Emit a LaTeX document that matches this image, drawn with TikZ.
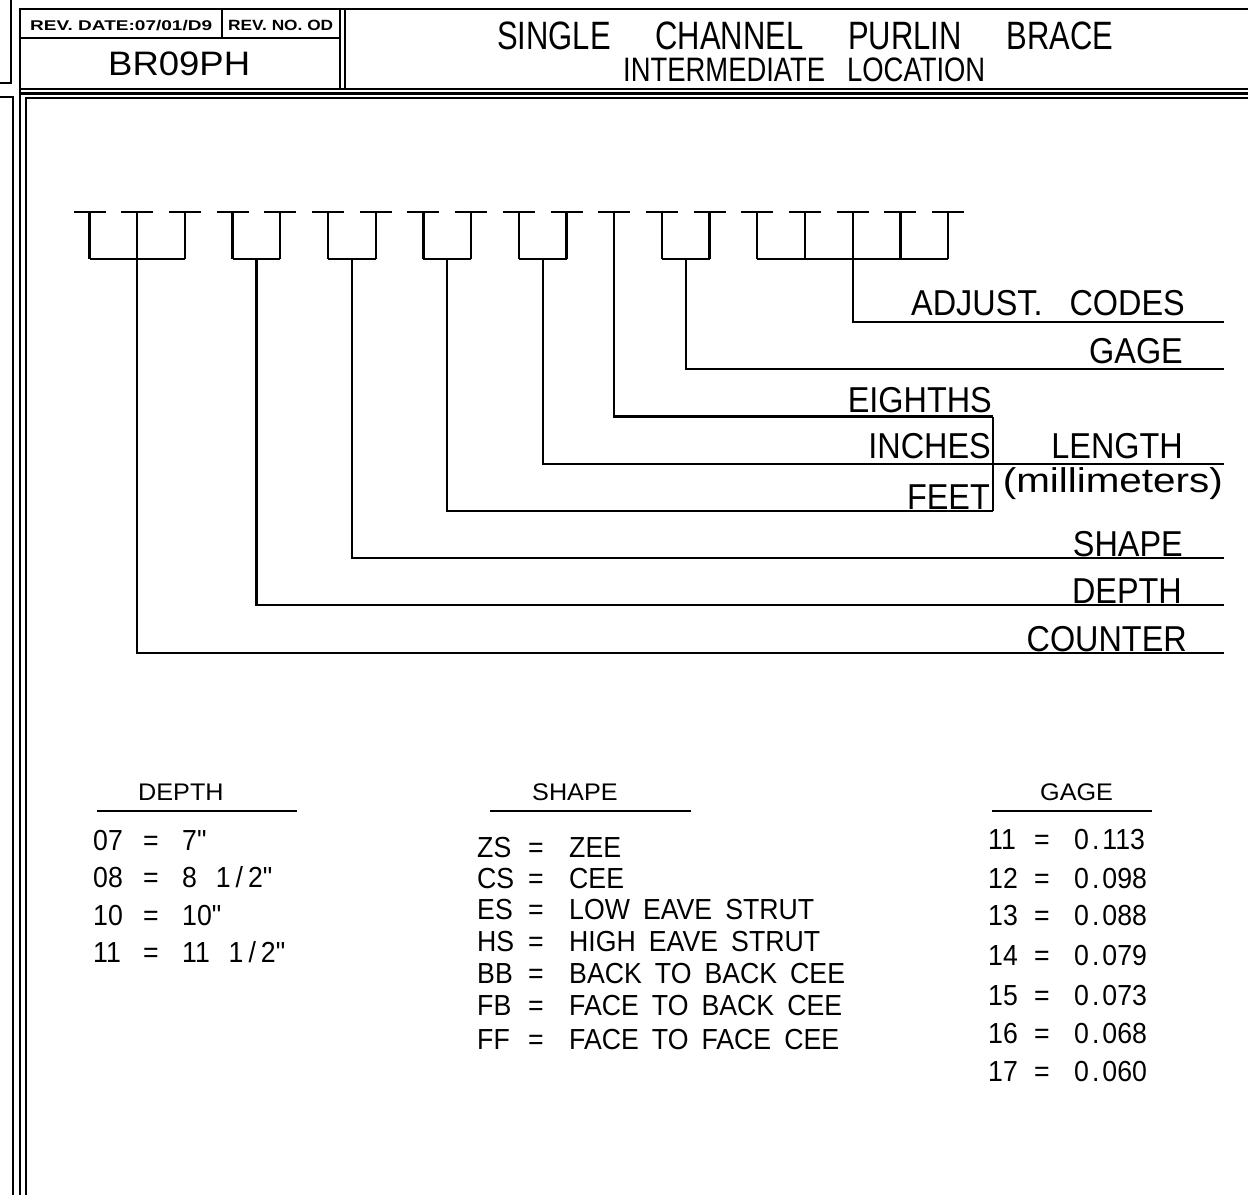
\documentclass[tikz,border=0pt]{standalone}
\usepackage{fontspec}
\setmainfont{Liberation Sans}
\newfontfamily\cadfont[FakeStretch=0.9]{Liberation Sans}
\newfontfamily\cadtab[FakeStretch=0.92]{Liberation Sans}
\newfontfamily\cadhdr[FakeStretch=1.05]{Liberation Sans}
\newcommand\gp{\hspace{0.45em}}
\newcommand\bgp{\hspace{0.75em}}
\newcommand\pd{\kern3pt.\kern3pt}
\newcommand\half{1\kern5pt/\kern5pt2"}
\tikzset{
  frame/.style={line width=2.2pt},
  thinframe/.style={line width=1.4pt},
  brk/.style={line width=2.3pt},
  lbl/.style={font=\cadfont\fontsize{36}{36}\selectfont, anchor=base east, inner sep=0pt},
  hdr/.style={font=\cadhdr\fontsize{24}{24}\selectfont, anchor=base west, inner sep=0pt},
  row/.style={font=\cadtab\fontsize{29}{29}\selectfont, anchor=base west, inner sep=0pt},
  fitnode/.style={anchor=south west, inner sep=0pt},
  uline/.style={line width=1.8pt},
}
\begin{document}
\begin{tikzpicture}[x=1pt,y=-1pt]
\useasboundingbox (0,0) rectangle (1248,1195);
% ---------- frame ----------
\draw[frame] (0,83) -- (11,83) -- (11,0);
\draw[frame] (0,97) -- (13,97) -- (13,1195);
\draw[frame] (20,1195) -- (20,9) -- (1248,9);
\draw[frame] (20,89) -- (1248,89);
\draw[frame] (20,93.5) -- (1248,93.5);
\draw[thinframe] (26,1195) -- (26,97.8) -- (1248,97.8);
\draw[frame] (20,38) -- (340,38);
\draw[frame] (222,9) -- (222,38);
\draw[frame] (340,9) -- (340,89);
\draw[frame] (345,9) -- (345,89);
% ---------- title block text ----------
\node[fitnode] (revdate) at (30,30.5) {\resizebox*{182pt}{10.5pt}{\bfseries REV.\ DATE:07/01/D9}};
\node[fitnode] (revno) at (228,30.5) {\resizebox*{105pt}{10.5pt}{\bfseries REV.\ NO.\ OD}};
\node[fitnode] (dwg) at (108,76) {\resizebox*{142pt}{24pt}{BR09PH}};
\node[fitnode] (title) at (497,50) {\resizebox*{616pt}{28pt}{SINGLE\hspace{1.45em}CHANNEL\hspace{1.45em}PURLIN\hspace{1.45em}BRACE}};
\node[fitnode] (subtitle) at (623,82) {\resizebox*{362pt}{24pt}{INTERMEDIATE\hspace{0.8em}LOCATION}};
% ---------- bracket row ----------
\foreach \k in {0,...,18}{
  \pgfmathsetmacro\cx{89.5+47.7*\k}
  \draw[brk] (\cx-16,212) -- (\cx+16,212);
  \draw[brk] (\cx,212) -- (\cx,259);
}
% group bars
\draw[brk] (89.5,259) -- (184.9,259);
\draw[brk] (232.6,259) -- (280.3,259);
\draw[brk] (328.0,259) -- (375.7,259);
\draw[brk] (423.4,259) -- (471.1,259);
\draw[brk] (518.8,259) -- (566.5,259);
\draw[brk] (661.9,259) -- (709.6,259);
\draw[brk] (757.3,259) -- (948.1,259);
% stems and leaders
\coordinate (sA) at (852.7,259);   \coordinate (eA) at (1224,322);
\coordinate (sG) at (685.8,259);   \coordinate (eG) at (1224,369);
\coordinate (sE) at (614.2,212);   \coordinate (eE) at (993,416.5);
\coordinate (sI) at (542.7,259);   \coordinate (eI) at (1224,464);
\coordinate (sF) at (447.3,259);   \coordinate (eF) at (993,511);
\coordinate (sS) at (351.9,259);   \coordinate (eS) at (1224,558);
\coordinate (sD) at (256.5,259);   \coordinate (eD) at (1224,605);
\coordinate (sC) at (137.2,259);   \coordinate (eC) at (1224,653);
\foreach \s/\e in {sA/eA,sG/eG,sE/eE,sI/eI,sF/eF,sS/eS,sD/eD,sC/eC}{
  \draw[brk] (\s) |- (\e);
}
\draw[brk] (eE) -- (eF);
% ---------- leader labels ----------
\node[lbl] (adj) at (1185,315) {ADJUST.\bgp CODES};
\node[lbl] (gage) at (1183,363) {GAGE};
\node[lbl] (eighths) at (992,412) {EIGHTHS};
\node[lbl] (inches) at (991,458) {INCHES};
\node[lbl] (length) at (1183,458) {LENGTH};
\node[fitnode, anchor=south east] (mm) at (1223,500) {\resizebox*{220pt}{32pt}{(millimeters)}};
\node[lbl] (feet) at (990,509.5) {FEET};
\node[lbl] (shape) at (1183,556) {SHAPE};
\node[lbl] (depth) at (1182,603) {DEPTH};
\node[lbl] (counter) at (1187,651) {COUNTER};
% ---------- DEPTH table ----------
\node[hdr] (dh) at (138,800) {DEPTH};
\draw[uline] (97,811) -- (297,811);
\foreach \y/\c/\v in {850/07/{7"}, 887/08/{8\hspace{0.65em}\half}, 925/10/{10"}, 962/11/{11\hspace{0.65em}\half}}{
  \node[row] at (93,\y) {\c};
  \node[row] at (143,\y) {=};
  \node[row] at (182,\y) {\v};
}
% ---------- SHAPE table ----------
\node[hdr] (sh) at (532,800) {SHAPE};
\draw[uline] (490,811) -- (691,811);
\foreach \y/\c/\v in {857/ZS/ZEE, 888/CS/CEE, 919/ES/{LOW\gp EAVE\gp STRUT}, 951/HS/{HIGH\gp EAVE\gp STRUT}, 983/BB/{BACK\gp TO\gp BACK\gp CEE}, 1015/FB/{FACE\gp TO\gp BACK\gp CEE}, 1049/FF/{FACE\gp TO\gp FACE\gp CEE}}{
  \node[row] at (477,\y) {\c};
  \node[row] at (528,\y) {=};
  \node[row] at (569,\y) {\v};
}
% ---------- GAGE table ----------
\node[hdr] (gh) at (1040,800) {GAGE};
\draw[uline] (992,811) -- (1152,811);
\foreach \y/\c/\v in {849/11/{0\pd 113}, 888/12/{0\pd 098}, 925/13/{0\pd 088}, 965/14/{0\pd 079}, 1005/15/{0\pd 073}, 1043/16/{0\pd 068}, 1081/17/{0\pd 060}}{
  \node[row] at (988,\y) {\c};
  \node[row] at (1034,\y) {=};
  \node[row] at (1074,\y) {\v};
}
\end{tikzpicture}
\end{document}
